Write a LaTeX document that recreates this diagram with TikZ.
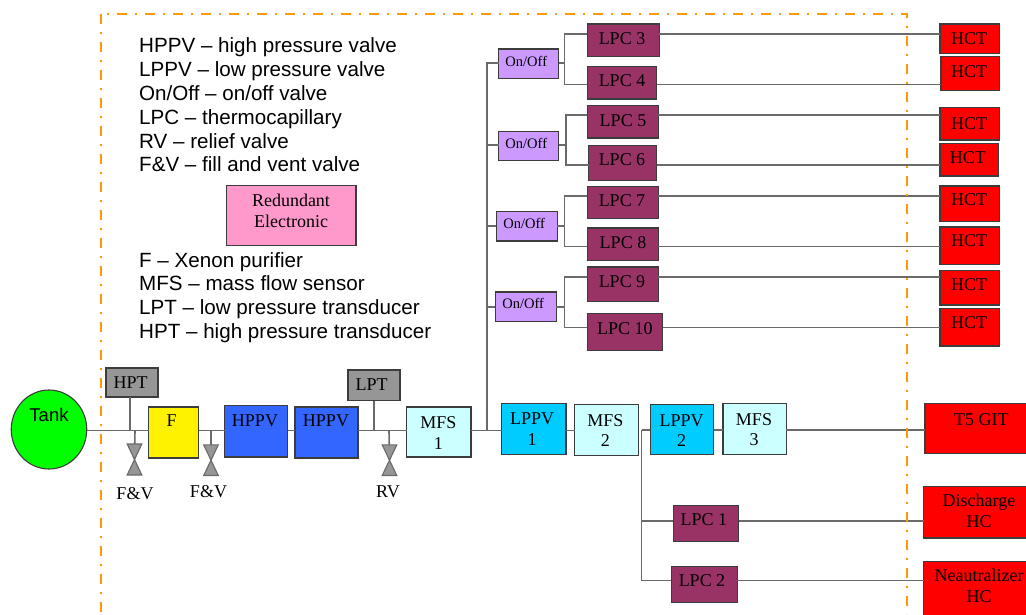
\documentclass[tikz,border=0pt]{standalone}
\usepackage{fontspec}
\setmainfont{Liberation Serif}
\newfontfamily\arialf{Liberation Sans}
\usetikzlibrary{shapes.geometric}
\definecolor{pipegray}{HTML}{6A6A6A}
\definecolor{edgegray}{HTML}{3C3C3C}
\definecolor{sensorgray}{HTML}{969696}
\definecolor{hppvblue}{HTML}{3366FF}
\definecolor{lppvblue}{HTML}{00CCFF}
\definecolor{mfscyan}{HTML}{CCFFFF}
\definecolor{lpcplum}{HTML}{993366}
\definecolor{onoffviolet}{HTML}{CC99FF}
\definecolor{redunpink}{HTML}{FF99CC}
\definecolor{borderorange}{HTML}{FF9900}
\tikzset{
  boxbase/.style={draw=edgegray,line width=1.1pt,inner sep=0pt,outer sep=0pt,rectangle,text=black,font=\fontsize{18}{20.7}\selectfont},
  sensorbox/.style={boxbase,fill=sensorgray},
  purifierbox/.style={boxbase,fill=yellow},
  hppvbox/.style={boxbase,fill=hppvblue},
  lppvbox/.style={boxbase,fill=lppvblue},
  mfsbox/.style={boxbase,fill=mfscyan},
  lpcbox/.style={boxbase,fill=lpcplum},
  onoffbox/.style={boxbase,fill=onoffviolet,font=\fontsize{14.5}{16}\selectfont},
  hctbox/.style={boxbase,fill=red},
  redunbox/.style={boxbase,fill=redunpink},
  pipe/.style={draw=pipegray,line width=1.6pt},
  valvebody/.style={draw=pipegray,fill=sensorgray,line width=1.1pt},
  legendtext/.style={anchor=base west,inner sep=0pt,font=\arialf\fontsize{20.6}{24}\selectfont,text=black},
  valvelabel/.style={anchor=base,inner sep=0pt,font=\fontsize{18}{20}\selectfont,text=black},
  envelope/.style={draw=borderorange,line width=2.4pt,dash pattern=on 10pt off 8pt on 2pt off 8pt},
}
% name, x1,y1,x2,y2, style, then text centre x, first baseline y and text
\newcommand\bx[8]{%
  \pgfmathsetmacro\bxw{#4-#2}\pgfmathsetmacro\bxh{#5-#3}%
  \pgfmathsetmacro\bxcx{(#2+#4)/2}\pgfmathsetmacro\bxcy{(#3+#5)/2}%
  \pgfmathsetmacro\bxdx{2*(#7-\bxcx)}\pgfmathsetmacro\bxdy{\bxcy-#8}%
  \node[#6,minimum width=\bxw pt,minimum height=\bxh pt] (#1) at (\bxcx,\bxcy)
    {\smash{\raisebox{\bxdy pt}{\hspace*{\bxdx pt}\bxtext}}};%
}
\newcommand\bxtext{}
\newcommand\lab[1]{\renewcommand\bxtext{#1}}
\newcommand\twol[2]{\begin{tabular}[t]{@{}c@{}}#1\\#2\end{tabular}}
\begin{document}
\begin{tikzpicture}[x=1pt,y=-1pt]
\useasboundingbox (0,0) rectangle (1026,614);
\fill[white] (0,0) rectangle (1026,614);

% legend
\node[legendtext] (l1) at (139,52) {HPPV – high pressure valve};
\node[legendtext] (l2) at (139,76) {LPPV – low pressure valve};
\node[legendtext] (l3) at (139,100) {On/Off – on/off valve};
\node[legendtext] (l4) at (139,124) {LPC – thermocapillary};
\node[legendtext] (l5) at (139,148) {RV – relief valve};
\node[legendtext] (l6) at (139,171.5) {F\&V – fill and vent valve};
\node[legendtext] (l7) at (139,267) {F – Xenon purifier};
\node[legendtext] (l8) at (139,290.5) {MFS – mass flow sensor};
\node[legendtext] (l9) at (139,314.5) {LPT – low pressure transducer};
\node[legendtext] (l10) at (139,338) {HPT – high pressure transducer};
\lab{\twol{Redundant}{Electronic}}\bx{redun}{226.7}{185.7}{356}{245.3}{redunbox}{291}{206.7}

% tank and main run
\node[ellipse,draw=edgegray,fill=green,line width=1.1pt,inner sep=0pt,outer sep=0pt,minimum width=75.5pt,minimum height=79pt,font=\arialf\fontsize{18.5}{20}\selectfont] (tank) at (49,429.5) {\smash{\raisebox{8.5pt}{Tank}}};
\lab{HPT}\bx{hpt}{106}{368}{158}{397}{sensorbox}{130.7}{388.3}
\lab{F}\bx{puri}{148.5}{407}{198.5}{458}{purifierbox}{171.7}{426.7}
\lab{HPPV}\bx{hppva}{224.5}{405.5}{287.5}{457}{hppvbox}{255}{426.7}
\lab{HPPV}\bx{hppvb}{295}{407}{358}{458}{hppvbox}{326}{426.7}
\lab{LPT}\bx{lpt}{348}{370}{400}{400.5}{sensorbox}{371.7}{390.7}
\lab{\twol{MFS}{1}}\bx{mfsa}{406.5}{407}{471}{457}{mfsbox}{438.3}{428.3}
\lab{\twol{LPPV}{1}}\bx{lppva}{501.6}{403.7}{566}{454.7}{lppvbox}{532.2}{424.7}
\lab{\twol{MFS}{2}}\bx{mfsb}{574.7}{404.7}{638.8}{455.7}{mfsbox}{605.3}{426}
\lab{\twol{LPPV}{2}}\bx{lppvb}{650.3}{404.7}{713.6}{454.7}{lppvbox}{681.6}{426}
\lab{\twol{MFS}{3}}\bx{mfsc}{723}{403.7}{786.4}{454.7}{mfsbox}{754}{425}
\lab{T5 GIT}\bx{git}{925}{403.7}{1032}{453.3}{hctbox}{981.4}{425}
\lab{\twol{Discharge}{HC}}\bx{dis}{923.6}{486.3}{1034}{538}{hctbox}{979}{506.7}
\lab{\twol{Neautralizer}{HC}}\bx{neu}{923.6}{561.3}{1034}{622}{hctbox}{979}{581.7}
\lab{LPC 1}\bx{lpca}{673.2}{505.7}{738.7}{541.3}{lpcbox}{703.9}{525.7}
\lab{LPC 2}\bx{lpcb}{671.2}{566.7}{737.3}{602.3}{lpcbox}{702}{586.7}

% on/off valves
\lab{On/Off}\bx{ooa}{498.5}{49}{558.7}{78.3}{onoffbox}{526.3}{66}
\lab{On/Off}\bx{oob}{498.5}{131.3}{558.7}{160.7}{onoffbox}{526.3}{148.3}
\lab{On/Off}\bx{ooc}{496.4}{211.7}{557.3}{241}{onoffbox}{524.2}{228.3}
\lab{On/Off}\bx{ood}{495.3}{292}{556.3}{321.3}{onoffbox}{523.2}{308.7}

% thermocapillaries
\lab{LPC 3}\bx{lpc3}{587.2}{24}{659.3}{56.7}{lpcbox}{622}{44.3}
\lab{LPC 4}\bx{lpc4}{587.2}{66.3}{656.9}{99}{lpcbox}{622}{86.7}
\lab{LPC 5}\bx{lpc5}{587.2}{105.3}{658.3}{138}{lpcbox}{623}{126.7}
\lab{LPC 6}\bx{lpc6}{588.6}{145.3}{656.9}{180.3}{lpcbox}{622}{165.7}
\lab{LPC 7}\bx{lpc7}{587.2}{186.7}{658.3}{218.3}{lpcbox}{622}{206.7}
\lab{LPC 8}\bx{lpc8}{587.2}{228}{658.3}{260.7}{lpcbox}{623}{248.3}
\lab{LPC 9}\bx{lpc9}{587.2}{267}{658.3}{301.7}{lpcbox}{622}{287}
\lab{LPC 10}\bx{lpc10}{587.2}{313.7}{662.8}{350.7}{lpcbox}{624.8}{334}

% hollow cathode thermocapillary boxes
\lab{HCT}\bx{hct3}{940}{24}{999.5}{53.3}{hctbox}{969.2}{44.3}
\lab{HCT}\bx{hct4}{941}{56.7}{999.5}{90.3}{hctbox}{969}{77.7}
\lab{HCT}\bx{hct5}{940}{107.7}{999.5}{140}{hctbox}{969}{129}
\lab{HCT}\bx{hct6}{940}{143.3}{998.5}{176}{hctbox}{967.8}{163.3}
\lab{HCT}\bx{hct7}{940}{186}{999.5}{221.7}{hctbox}{969}{205.7}
\lab{HCT}\bx{hct8}{940}{227}{999.5}{264.7}{hctbox}{969}{246.7}
\lab{HCT}\bx{hct9}{940}{270.3}{999.5}{305}{hctbox}{969}{290.3}
\lab{HCT}\bx{hct10}{940}{308.3}{999.5}{346}{hctbox}{969}{328.3}

% main line
\coordinate (busy) at (0,430.5);
\coordinate (risertee) at (487,430.5);
\coordinate (mfstee) at (641.6,430);
\draw[pipe] (tank.east |- busy) -- (puri.west |- busy);
\draw[pipe] (puri.east |- busy) -- (hppva.west |- busy);
\draw[pipe] (hppva.east |- busy) -- (hppvb.west |- busy);
\draw[pipe] (hppvb.east |- busy) -- (mfsa.west |- busy);
\draw[pipe] (mfsa.east |- busy) -- (lppva.west |- busy);
\draw[pipe] (lppva.east |- busy) -- (mfsb.west |- busy);
\draw[pipe] (mfstee) -- (lppvb.west |- mfstee);
\draw[pipe] (lppvb.east |- mfstee) -- (mfsc.west |- mfstee);
\draw[pipe] (mfsc.east |- mfstee) -- (git.west |- mfstee);

% transducers
\draw[pipe] (hpt.south -| 130,0) -- (130,430.5);
\draw[pipe] (lpt.south -| 374,0) -- (374,430.5);

% valves
\coordinate (va) at (134.5,459.5);
\coordinate (vb) at (211,460.2);
\coordinate (vc) at (389.5,460.2);
\draw[pipe] (135,430.5) -- (va);
\draw[pipe] (211,430.5) -- (vb);
\draw[pipe] (389,430.5) -- (vc);
\draw[valvebody,shift={(va)}] (-7.3,-15.5) -- (7.3,-15.5) -- (-7.3,15.5) -- (7.3,15.5) -- cycle;
\draw[valvebody,shift={(vb)}] (-7.3,-15.3) -- (7.3,-15.3) -- (-7.3,15.3) -- (7.3,15.3) -- cycle;
\draw[valvebody,shift={(vc)}] (-7.3,-15.3) -- (7.3,-15.3) -- (-7.3,15.3) -- (7.3,15.3) -- cycle;
\node[valvelabel] (fva) at (135,499) {F\&V};
\node[valvelabel] (fvb) at (208.5,497.5) {F\&V};
\node[valvelabel] (rv) at (388,497.5) {RV};

% riser and on/off feeds
\coordinate (risertop) at (487,62.7);
\coordinate (fb) at (565.7,145);
\coordinate (fa) at (564.6,62.7);
\coordinate (fc) at (564.6,225.7);
\coordinate (fd) at (564.6,306.7);
\draw[pipe] (risertee) -- (risertop) -- (ooa.west |- risertop);
\draw[pipe] (risertee |- fb) -- (oob.west |- fb);
\draw[pipe] (risertee |- fc) -- (ooc.west |- fc);
\draw[pipe] (risertee |- fd) -- (ood.west |- fd);
\draw[pipe] (ooa.east |- fa) -- (fa);
\draw[pipe] (oob.east |- fb) -- (fb);
\draw[pipe] (ooc.east |- fc) -- (fc);
\draw[pipe] (ood.east |- fd) -- (fd);

% forks to thermocapillaries and on to the HCT boxes
\foreach \up/\fk/\yy in {lpc3/fa/33.7,lpc4/fa/84.3,lpc5/fb/115,lpc6/fb/165,lpc7/fc/195.7,lpc8/fc/246.3,lpc9/fd/276.7,lpc10/fd/327.3}{
  \draw[pipe] (\up.west |- 0,\yy) -| (\fk);
}
\draw[pipe] (lpc3.east |- 0,33.7) -- (hct3.west |- 0,33.7);
\draw[pipe] (lpc4.east |- 0,84.3) -- (hct4.west |- 0,84.3);
\draw[pipe] (lpc5.east |- 0,115) -- (hct5.west |- 0,115);
\draw[pipe] (lpc6.east |- 0,165) -- (hct6.west |- 0,165);
\draw[pipe] (lpc7.east |- 0,195.7) -- (hct7.west |- 0,195.7);
\draw[pipe] (lpc8.east |- 0,246.3) -- (hct8.west |- 0,246.3);
\draw[pipe] (lpc9.east |- 0,276.7) -- (hct9.west |- 0,276.7);
\draw[pipe] (lpc10.east |- 0,327.3) -- (hct10.west |- 0,327.3);

% lower branch
\coordinate (lya) at (641.6,520.7);
\coordinate (lyb) at (641.6,580.3);
\draw[pipe] (mfstee) -- (lyb) -- (lpcb.west |- lyb);
\draw[pipe] (lya) -- (lpca.west |- lya);
\draw[pipe] (lpca.east |- lya) -- (dis.west |- lya);
\draw[pipe] (lpcb.east |- lyb) -- (neu.west |- lyb);

% dash-dot envelope
\coordinate (ca) at (101,14);
\coordinate (cb) at (907,14);
\coordinate (cc) at (907,614);
\coordinate (cd) at (101,614);
\draw[envelope,dash phase=0pt] (ca) -- (cd);
\draw[envelope,dash phase=12pt] (ca) -- (cb) -- (cc);
\end{tikzpicture}
\end{document}
